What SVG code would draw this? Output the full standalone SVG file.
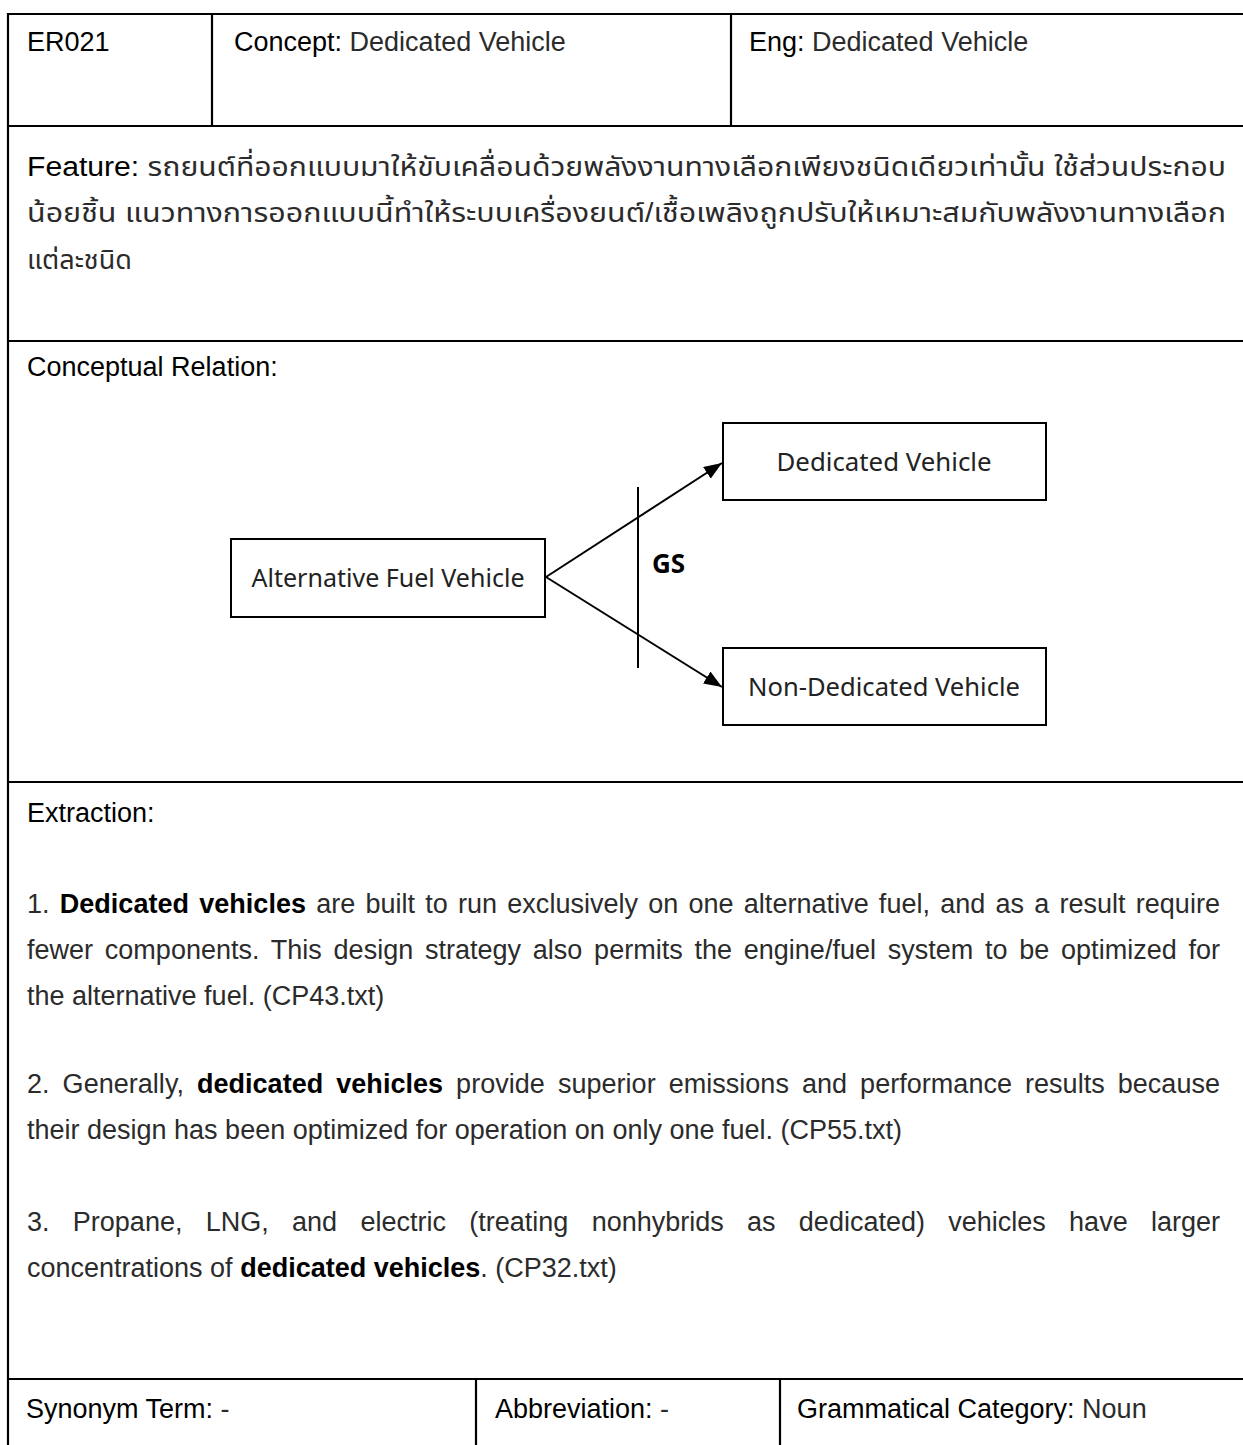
<svg xmlns="http://www.w3.org/2000/svg" width="1243" height="1445" viewBox="0 0 1243 1445">
  <defs>
    <style>
      .grid{stroke:#000;stroke-width:2.2;fill:none}
      .t{font-family:"Liberation Sans",Arial,"Noto Sans Thai","Noto Sans Thai UI",Loma,Garuda,"Tlwg Typo",sans-serif;font-size:27px;fill:#2b2b2b}
      .lab{fill:#000}
      .b{font-weight:bold;fill:#000}
      .box{fill:#fff;stroke:#000;stroke-width:2}
      .bl{font-family:"Noto Sans","Open Sans",sans-serif;font-size:25px;fill:#222;text-anchor:middle}
      .gs{font-family:"Open Sans","Liberation Sans",sans-serif;font-size:26px;font-weight:bold;fill:#000}
      .con{stroke:#000;stroke-width:2;fill:none}
    </style>
    <marker id="arr" markerWidth="18" markerHeight="14" refX="18" refY="7" orient="auto" markerUnits="userSpaceOnUse">
      <path d="M0,0 L18,7 L0,14 z" fill="#000"/>
    </marker>
  </defs>

  <rect width="1243" height="1445" fill="#fff"/>

  <!-- table rules -->
  <g id="table" class="grid">
    <path d="M8,1445 V14 H1243"/>
    <path d="M8,126 H1243"/>
    <path d="M8,341 H1243"/>
    <path d="M8,782 H1243"/>
    <path d="M8,1379 H1243"/>
    <path d="M212,14 V126"/>
    <path d="M731,14 V126"/>
    <path d="M476,1379 V1445"/>
    <path d="M780,1379 V1445"/>
  </g>

  <!-- header row -->
  <g id="header" class="t">
    <text x="27" y="51" class="lab">ER021</text>
    <text x="234" y="51"><tspan class="lab">Concept:</tspan> Dedicated Vehicle</text>
    <text x="749" y="51"><tspan class="lab">Eng:</tspan> Dedicated Vehicle</text>
  </g>

  <!-- feature description -->
  <g id="feature" class="t">
    <text x="27" y="176" textLength="1199" lengthAdjust="spacingAndGlyphs"><tspan class="lab">Feature:</tspan> รถยนต์ที่ออกแบบมาให้ขับเคลื่อนด้วยพลังงานทางเลือกเพียงชนิดเดียวเท่านั้น ใช้ส่วนประกอบ</text>
    <text x="27" y="222" textLength="1199" lengthAdjust="spacingAndGlyphs">น้อยชิ้น แนวทางการออกแบบนี้ทำให้ระบบเครื่องยนต์/เชื้อเพลิงถูกปรับให้เหมาะสมกับพลังงานทางเลือก</text>
    <text x="27" y="269">แต่ละชนิด</text>
  </g>

  <text x="27" y="376" class="t lab">Conceptual Relation:</text>

  <!-- concept diagram -->
  <g id="connectors">
    <path class="con" d="M546,577 L722,463" marker-end="url(#arr)"/>
    <path class="con" d="M546,577 L722,687" marker-end="url(#arr)"/>
    <path class="con" d="M638,487 V668"/>
    <text x="652" y="573" class="gs">GS</text>
  </g>

  <g id="node-afv">
    <rect class="box" x="231" y="539" width="314" height="78"/>
    <text class="bl" x="388" y="587" textLength="273" lengthAdjust="spacingAndGlyphs">Alternative Fuel Vehicle</text>
  </g>
  <g id="node-dv">
    <rect class="box" x="723" y="423" width="323" height="77"/>
    <text class="bl" x="884" y="471" textLength="215" lengthAdjust="spacingAndGlyphs">Dedicated Vehicle</text>
  </g>
  <g id="node-ndv">
    <rect class="box" x="723" y="648" width="323" height="77"/>
    <text class="bl" x="884" y="696" textLength="272" lengthAdjust="spacingAndGlyphs">Non-Dedicated Vehicle</text>
  </g>

  <!-- extraction -->
  <g id="extraction" class="t">
    <text x="27" y="822" class="lab">Extraction:</text>

    <text x="27" y="913" style="word-spacing:2.6px" textLength="1193" lengthAdjust="spacing">1. <tspan class="b">Dedicated vehicles</tspan> are built to run exclusively on one alternative fuel, and as a result require</text>
    <text x="27" y="959" style="word-spacing:4.2px" textLength="1193" lengthAdjust="spacing">fewer components. This design strategy also permits the engine/fuel system to be optimized for</text>
    <text x="27" y="1005">the alternative fuel. (CP43.txt)</text>

    <text x="27" y="1093" style="word-spacing:5.5px" textLength="1193" lengthAdjust="spacing">2. Generally, <tspan class="b">dedicated vehicles</tspan> provide superior emissions and performance results because</text>
    <text x="27" y="1139">their design has been optimized for operation on only one fuel. (CP55.txt)</text>

    <text x="27" y="1231" style="word-spacing:15.8px" textLength="1193" lengthAdjust="spacing">3. Propane, LNG, and electric (treating nonhybrids as dedicated) vehicles have larger</text>
    <text x="27" y="1277">concentrations of <tspan class="b">dedicated vehicles</tspan>. (CP32.txt)</text>
  </g>

  <!-- footer row -->
  <g id="footer" class="t">
    <text x="26" y="1418"><tspan class="lab">Synonym Term:</tspan> -</text>
    <text x="495" y="1418"><tspan class="lab">Abbreviation:</tspan> -</text>
    <text x="797" y="1418"><tspan class="lab">Grammatical Category:</tspan> Noun</text>
  </g>
</svg>
